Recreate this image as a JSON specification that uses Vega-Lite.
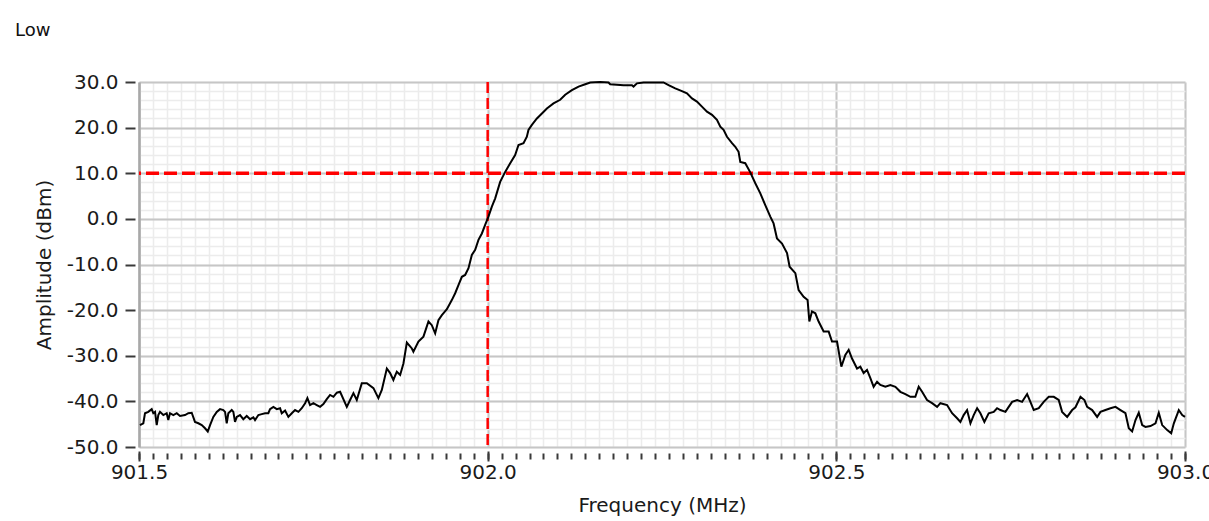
{
  "$schema": "https://vega.github.io/schema/vega-lite/v6.json",
  "width": 1046,
  "height": 365,
  "autosize": {"type": "none"},
  "padding": {"left": 139, "top": 82, "right": 24, "bottom": 74},
  "background": "white",
  "title": {"text": "Low", "anchor": "start", "frame": "group", "dx": -124, "dy": -28, "fontSize": 18, "font": "DejaVu Sans", "fontWeight": "normal", "color": "#111"},
  "datasets": {
    "trace": [
      {"freq":901.5014,"amp":-45.2},{"freq":901.5062,"amp":-44.8},{"freq":901.5086,"amp":-42.6},{"freq":901.5133,"amp":-42.3},{"freq":901.5182,"amp":-41.7},{"freq":901.5205,"amp":-42.6},{"freq":901.523,"amp":-42.3},{"freq":901.5254,"amp":-45.2},{"freq":901.5277,"amp":-43.0},{"freq":901.5301,"amp":-42.3},{"freq":901.5349,"amp":-43.0},{"freq":901.5397,"amp":-42.6},{"freq":901.542,"amp":-44.1},{"freq":901.5445,"amp":-42.6},{"freq":901.5492,"amp":-43.0},{"freq":901.5541,"amp":-42.6},{"freq":901.5588,"amp":-43.2},{"freq":901.566,"amp":-43.0},{"freq":901.5707,"amp":-42.6},{"freq":901.5756,"amp":-42.5},{"freq":901.5803,"amp":-44.5},{"freq":901.5851,"amp":-44.8},{"freq":901.59,"amp":-45.2},{"freq":901.5947,"amp":-45.9},{"freq":901.5986,"amp":-46.6},{"freq":901.6019,"amp":-45.2},{"freq":901.6066,"amp":-43.4},{"freq":901.6115,"amp":-42.3},{"freq":901.6162,"amp":-41.7},{"freq":901.6209,"amp":-41.9},{"freq":901.6234,"amp":-42.3},{"freq":901.6258,"amp":-44.8},{"freq":901.6281,"amp":-42.6},{"freq":901.633,"amp":-41.9},{"freq":901.6353,"amp":-42.3},{"freq":901.6377,"amp":-44.5},{"freq":901.6402,"amp":-43.4},{"freq":901.6449,"amp":-43.0},{"freq":901.6496,"amp":-43.9},{"freq":901.6545,"amp":-43.2},{"freq":901.6593,"amp":-43.9},{"freq":901.664,"amp":-43.5},{"freq":901.6664,"amp":-44.1},{"freq":901.6712,"amp":-43.0},{"freq":901.676,"amp":-42.8},{"freq":901.6808,"amp":-42.6},{"freq":901.6855,"amp":-42.6},{"freq":901.6879,"amp":-41.7},{"freq":901.6927,"amp":-41.2},{"freq":901.6976,"amp":-41.7},{"freq":901.7023,"amp":-41.5},{"freq":901.7047,"amp":-42.6},{"freq":901.7095,"amp":-42.0},{"freq":901.7142,"amp":-43.4},{"freq":901.7191,"amp":-42.6},{"freq":901.7238,"amp":-41.9},{"freq":901.7286,"amp":-42.3},{"freq":901.7334,"amp":-41.5},{"freq":901.7382,"amp":-40.4},{"freq":901.7415,"amp":-39.3},{"freq":901.7453,"amp":-40.8},{"freq":901.7501,"amp":-40.4},{"freq":901.7549,"amp":-40.8},{"freq":901.7597,"amp":-41.2},{"freq":901.7644,"amp":-40.6},{"freq":901.7693,"amp":-39.5},{"freq":901.774,"amp":-38.6},{"freq":901.7788,"amp":-39.0},{"freq":901.7837,"amp":-38.1},{"freq":901.7884,"amp":-37.9},{"freq":901.798,"amp":-41.2},{"freq":901.8027,"amp":-39.7},{"freq":901.8075,"amp":-38.2},{"freq":901.8123,"amp":-39.7},{"freq":901.8195,"amp":-36.0},{"freq":901.8267,"amp":-36.0},{"freq":901.8362,"amp":-37.1},{"freq":901.8433,"amp":-39.3},{"freq":901.8482,"amp":-37.5},{"freq":901.8554,"amp":-32.8},{"freq":901.8601,"amp":-33.8},{"freq":901.8648,"amp":-35.3},{"freq":901.8697,"amp":-33.5},{"freq":901.8745,"amp":-34.2},{"freq":901.8792,"amp":-31.7},{"freq":901.8841,"amp":-27.1},{"freq":901.8913,"amp":-28.4},{"freq":901.8935,"amp":-29.1},{"freq":901.9007,"amp":-26.9},{"freq":901.9079,"amp":-25.8},{"freq":901.9151,"amp":-22.5},{"freq":901.9199,"amp":-23.3},{"freq":901.9247,"amp":-25.1},{"freq":901.9294,"amp":-22.2},{"freq":901.9343,"amp":-21.1},{"freq":901.9415,"amp":-19.8},{"freq":901.9486,"amp":-17.8},{"freq":901.9534,"amp":-16.3},{"freq":901.9581,"amp":-14.5},{"freq":901.963,"amp":-12.7},{"freq":901.9677,"amp":-12.3},{"freq":901.9725,"amp":-10.8},{"freq":901.9773,"amp":-7.9},{"freq":901.9821,"amp":-6.8},{"freq":901.9868,"amp":-4.6},{"freq":901.9917,"amp":-3.2},{"freq":901.9964,"amp":-1.3},{"freq":902.0011,"amp":0.5},{"freq":902.006,"amp":2.7},{"freq":902.0108,"amp":4.5},{"freq":902.0179,"amp":8.1},{"freq":902.0251,"amp":10.3},{"freq":902.0323,"amp":12.2},{"freq":902.0394,"amp":14.0},{"freq":902.0442,"amp":16.2},{"freq":902.0514,"amp":16.6},{"freq":902.0562,"amp":18.0},{"freq":902.0585,"amp":19.5},{"freq":902.0634,"amp":20.6},{"freq":902.0706,"amp":22.0},{"freq":902.0778,"amp":23.1},{"freq":902.0849,"amp":24.2},{"freq":902.0944,"amp":25.3},{"freq":902.104,"amp":26.1},{"freq":902.1112,"amp":27.2},{"freq":902.1208,"amp":28.2},{"freq":902.1303,"amp":29.0},{"freq":902.1399,"amp":29.5},{"freq":902.1471,"amp":29.9},{"freq":902.1614,"amp":30.0},{"freq":902.1733,"amp":29.9},{"freq":902.1757,"amp":29.5},{"freq":902.1948,"amp":29.3},{"freq":902.2069,"amp":29.3},{"freq":902.2092,"amp":29.0},{"freq":902.2141,"amp":29.7},{"freq":902.2235,"amp":29.9},{"freq":902.2379,"amp":29.9},{"freq":902.2522,"amp":29.9},{"freq":902.2594,"amp":29.3},{"freq":902.269,"amp":28.6},{"freq":902.2786,"amp":28.0},{"freq":902.2858,"amp":27.5},{"freq":902.293,"amp":26.4},{"freq":902.3001,"amp":25.7},{"freq":902.3073,"amp":24.6},{"freq":902.3145,"amp":23.5},{"freq":902.3217,"amp":22.8},{"freq":902.3288,"amp":21.7},{"freq":902.3336,"amp":20.2},{"freq":902.3383,"amp":19.5},{"freq":902.3432,"amp":18.0},{"freq":902.3504,"amp":16.6},{"freq":902.3551,"amp":15.8},{"freq":902.3598,"amp":14.7},{"freq":902.3623,"amp":12.5},{"freq":902.3694,"amp":12.2},{"freq":902.3766,"amp":10.2},{"freq":902.3838,"amp":7.8},{"freq":902.391,"amp":5.6},{"freq":902.3981,"amp":3.0},{"freq":902.4053,"amp":0.5},{"freq":902.41,"amp":-1.0},{"freq":902.4149,"amp":-4.3},{"freq":902.4221,"amp":-5.4},{"freq":902.4293,"amp":-7.5},{"freq":902.433,"amp":-10.5},{"freq":902.4412,"amp":-11.9},{"freq":902.4459,"amp":-15.6},{"freq":902.4531,"amp":-17.1},{"freq":902.4588,"amp":-17.8},{"freq":902.4613,"amp":-22.5},{"freq":902.4651,"amp":-20.3},{"freq":902.4699,"amp":-20.7},{"freq":902.4746,"amp":-22.5},{"freq":902.4818,"amp":-24.7},{"freq":902.489,"amp":-24.7},{"freq":902.4938,"amp":-26.9},{"freq":902.501,"amp":-26.9},{"freq":902.5072,"amp":-32.4},{"freq":902.5129,"amp":-29.8},{"freq":902.5177,"amp":-28.7},{"freq":902.5225,"amp":-30.6},{"freq":902.5297,"amp":-32.8},{"freq":902.5344,"amp":-32.4},{"freq":902.5392,"amp":-33.8},{"freq":902.544,"amp":-33.1},{"freq":902.5488,"amp":-34.9},{"freq":902.5535,"amp":-36.8},{"freq":902.5584,"amp":-35.7},{"freq":902.5631,"amp":-36.4},{"freq":902.5703,"amp":-36.8},{"freq":902.5775,"amp":-36.4},{"freq":902.5847,"amp":-36.8},{"freq":902.5918,"amp":-37.9},{"freq":902.599,"amp":-38.4},{"freq":902.6062,"amp":-39.0},{"freq":902.6133,"amp":-39.0},{"freq":902.6181,"amp":-36.8},{"freq":902.623,"amp":-37.9},{"freq":902.6301,"amp":-39.7},{"freq":902.6373,"amp":-40.4},{"freq":902.6445,"amp":-41.2},{"freq":902.6492,"amp":-40.4},{"freq":902.6588,"amp":-40.8},{"freq":902.666,"amp":-42.6},{"freq":902.6732,"amp":-43.7},{"freq":902.6779,"amp":-44.5},{"freq":902.6826,"amp":-43.0},{"freq":902.6875,"amp":-41.9},{"freq":902.6923,"amp":-44.8},{"freq":902.697,"amp":-43.0},{"freq":902.7019,"amp":-41.5},{"freq":902.7066,"amp":-42.6},{"freq":902.7123,"amp":-44.5},{"freq":902.7185,"amp":-42.6},{"freq":902.7257,"amp":-42.3},{"freq":902.7305,"amp":-41.5},{"freq":902.7353,"amp":-41.9},{"freq":902.7425,"amp":-42.3},{"freq":902.7472,"amp":-41.2},{"freq":902.7521,"amp":-40.1},{"freq":902.7593,"amp":-39.7},{"freq":902.7664,"amp":-40.1},{"freq":902.7736,"amp":-38.4},{"freq":902.7783,"amp":-40.1},{"freq":902.7831,"amp":-41.9},{"freq":902.7903,"amp":-41.5},{"freq":902.7974,"amp":-40.1},{"freq":902.8046,"amp":-39.0},{"freq":902.8118,"amp":-39.0},{"freq":902.8189,"amp":-39.7},{"freq":902.8238,"amp":-42.3},{"freq":902.831,"amp":-43.4},{"freq":902.8382,"amp":-41.9},{"freq":902.8429,"amp":-41.3},{"freq":902.8501,"amp":-39.0},{"freq":902.8558,"amp":-39.7},{"freq":902.8597,"amp":-41.2},{"freq":902.8669,"amp":-41.9},{"freq":902.874,"amp":-43.4},{"freq":902.8788,"amp":-42.3},{"freq":902.8859,"amp":-41.9},{"freq":902.8931,"amp":-41.5},{"freq":902.9003,"amp":-41.2},{"freq":902.9075,"amp":-41.9},{"freq":902.9146,"amp":-42.6},{"freq":902.9194,"amp":-45.9},{"freq":902.9242,"amp":-46.6},{"freq":902.929,"amp":-44.1},{"freq":902.9337,"amp":-42.5},{"freq":902.9386,"amp":-45.2},{"freq":902.9433,"amp":-45.6},{"freq":902.9505,"amp":-45.4},{"freq":902.9577,"amp":-44.8},{"freq":902.9624,"amp":-42.5},{"freq":902.9673,"amp":-45.2},{"freq":902.9745,"amp":-46.3},{"freq":902.9802,"amp":-47.0},{"freq":902.984,"amp":-44.8},{"freq":902.9911,"amp":-41.9},{"freq":902.996,"amp":-43.0},{"freq":903.0,"amp":-43.4}
    ]
  },
  "layer": [
    {
      "data": {"name": "trace"},
      "mark": {"type": "line", "opacity": 0},
      "encoding": {
        "x": {"field": "freq", "type": "quantitative",
          "scale": {"domain": [901.5, 903.0], "nice": false, "zero": false},
          "axis": {"orient": "bottom", "title": null, "labels": false, "domain": false, "grid": true, "gridColor": "#ececec", "gridWidth": 1.5,
            "ticks": true, "tickSize": 6, "tickWidth": 2, "tickColor": "#3a3a3a", "offset": 6,
            "values": [901.5,901.52,901.54,901.56,901.58,901.6,901.62,901.64,901.66,901.68,901.7,901.72,901.74,901.76,901.78,901.8,901.82,901.84,901.86,901.88,901.9,901.92,901.94,901.96,901.98,902.0,902.02,902.04,902.06,902.08,902.1,902.12,902.14,902.16,902.18,902.2,902.22,902.24,902.26,902.28,902.3,902.32,902.34,902.36,902.38,902.4,902.42,902.44,902.46,902.48,902.5,902.52,902.54,902.56,902.58,902.6,902.62,902.64,902.66,902.68,902.7,902.72,902.74,902.76,902.78,902.8,902.82,902.84,902.86,902.88,902.9,902.92,902.94,902.96,902.98,903.0]}},
        "y": {"field": "amp", "type": "quantitative",
          "scale": {"domain": [-50, 30], "nice": false, "zero": false},
          "axis": {"orient": "left", "title": null, "labels": false, "ticks": false, "grid": true, "gridColor": "#ececec", "gridWidth": 1.5,
            "domain": true, "domainColor": "#a8a8a8", "domainWidth": 2.5, "offset": 0,
            "values": [-50,-48,-46,-44,-42,-40,-38,-36,-34,-32,-30,-28,-26,-24,-22,-20,-18,-16,-14,-12,-10,-8,-6,-4,-2,0,2,4,6,8,10,12,14,16,18,20,22,24,26,28,30]}}
      }
    },
    {
      "data": {"name": "trace"},
      "mark": {"type": "line", "opacity": 0},
      "encoding": {
        "x": {"field": "freq", "type": "quantitative",
          "scale": {"domain": [901.5, 903.0], "nice": false, "zero": false},
          "axis": {"orient": "bottom", "title": "Frequency (MHz)", "values": [901.5, 902.0, 902.5, 903.0], "format": ".1f", "labelFlush": false,
            "domain": false, "grid": true, "gridColor": "#c6c6c6", "gridWidth": 2,
            "ticks": true, "tickSize": 10, "tickWidth": 2, "tickColor": "#3a3a3a", "offset": 4, "labelPadding": 1, "titlePadding": 13}},
        "y": {"field": "amp", "type": "quantitative",
          "scale": {"domain": [-50, 30], "nice": false, "zero": false},
          "axis": {"orient": "left", "title": "Amplitude (dBm)", "values": [-50,-40,-30,-20,-10,0,10,20,30],
            "labelExpr": "replace(format(datum.value, '.1f'), '\u2212', '-')",
            "domain": false, "grid": true, "gridColor": "#c6c6c6", "gridWidth": 2,
            "ticks": true, "tickSize": 10, "tickWidth": 2, "tickColor": "#3a3a3a", "offset": 4, "labelPadding": 7, "titlePadding": 12}}
      }
    },
    {
      "data": {"values": [{"level": 10}]},
      "mark": {"type": "rule", "color": "#ff0000", "strokeWidth": 3.5, "strokeDash": [13, 5]},
      "encoding": {"y": {"field": "level", "type": "quantitative", "scale": {"domain": [-50, 30], "nice": false, "zero": false}, "axis": null}}
    },
    {
      "data": {"values": [{"marker": 902.0}]},
      "mark": {"type": "rule", "color": "#ff0000", "strokeWidth": 2.5, "strokeDash": [11, 5]},
      "encoding": {"x": {"field": "marker", "type": "quantitative", "scale": {"domain": [901.5, 903.0], "nice": false, "zero": false}, "axis": null}}
    },
    {
      "data": {"name": "trace"},
      "mark": {"type": "line", "color": "#000000", "strokeWidth": 2},
      "encoding": {
        "x": {"field": "freq", "type": "quantitative", "scale": {"domain": [901.5, 903.0], "nice": false, "zero": false}, "axis": null},
        "y": {"field": "amp", "type": "quantitative", "scale": {"domain": [-50, 30], "nice": false, "zero": false}, "axis": null}
      }
    }
  ],
  "resolve": {"axis": {"x": "independent", "y": "independent"}},
  "config": {
    "view": {"stroke": null},
    "axis": {"labelFont": "DejaVu Sans", "titleFont": "DejaVu Sans", "labelFontSize": 20, "titleFontSize": 20, "titleFontWeight": "normal", "labelColor": "#1a1a1a", "titleColor": "#1a1a1a"}
  }
}
